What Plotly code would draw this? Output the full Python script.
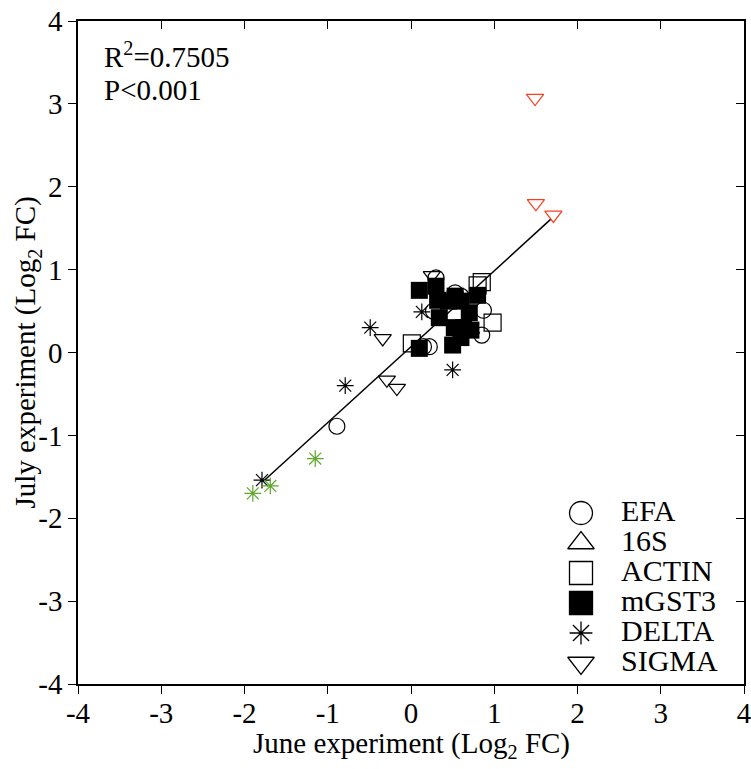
import plotly.graph_objects as go

# ---- data (Log2 fold change) ----
efa_june = [-0.89, 0.15, 0.22, 0.30, 0.27, 0.53, 0.60, 0.87, 0.85]
efa_july = [-0.89, 0.07, 0.07, 0.90, 0.50, 0.72, 0.68, 0.51, 0.21]

s16_june = [0.53, 0.72]
s16_july = [0.66, 0.28]

actin_june = [0.01, 0.80, 0.85, 0.98]
actin_july = [0.11, 0.81, 0.85, 0.36]

mgst3_june = [0.10, 0.30, 0.32, 0.34, 0.53, 0.80, 0.70, 0.72, 0.63, 0.60, 0.50, 0.10, 0.45, 0.60, 0.52]
mgst3_july = [0.75, 0.80, 0.63, 0.42, 0.68, 0.69, 0.48, 0.27, 0.30, 0.18, 0.09, 0.05, 0.62, 0.62, 0.30]

delta_june = [-1.79, -0.79, -0.49, 0.13, 0.50]
delta_july = [-1.54, -0.40, 0.30, 0.49, -0.21]
delta_hl_june = [-1.90, -1.69, -1.15]
delta_hl_july = [-1.70, -1.61, -1.28]

sigma_june = [-0.34, -0.29, -0.17, 0.25]
sigma_july = [0.17, -0.33, -0.43, 0.93]
sigma_hl_june = [1.49, 1.50, 1.71]
sigma_hl_july = [3.07, 1.80, 1.66]

fit_slope = 0.916
fit_intercept = 0.07
fit_june = [-1.78, 1.68]
fit_july = [fit_slope * v + fit_intercept for v in fit_june]

legend_names = ["EFA", "16S", "ACTIN", "mGST3", "DELTA", "SIGMA"]
legend_symbols = ["circle-open", "triangle-up-open", "square-open", "square",
                  "asterisk-open", "triangle-down-open"]

tick_vals = [-4, -3, -2, -1, 0, 1, 2, 3, 4]
tick_text = ["-4", "-3", "-2", "-1", "0", "1", "2", "3", "4"]

FONT = "Liberation Serif"
BLACK = "#000000"
GREEN = "#5fa82a"
RED = "#ff3c1e"

fig = go.Figure()

def pts(x, y, symbol, size, color, width=1.2):
    fig.add_trace(go.Scatter(
        x=x, y=y, mode="markers", showlegend=False, hoverinfo="skip",
        marker=dict(symbol=symbol, size=size, color=color,
                    line=dict(color=color, width=width))))

# regression line
fig.add_trace(go.Scatter(x=fit_june, y=fit_july, mode="lines", showlegend=False,
                         line=dict(color=BLACK, width=1.5), hoverinfo="skip"))

pts(efa_june, efa_july, "circle-open", 16, BLACK)
pts(s16_june, s16_july, "triangle-up-open", 15, BLACK)
pts(actin_june, actin_july, "square-open", 17, BLACK)
pts(mgst3_june, mgst3_july, "square", 17, BLACK, 0)
pts(delta_june, delta_july, "asterisk-open", 14, BLACK)
pts(delta_hl_june, delta_hl_july, "asterisk-open", 14, GREEN)
pts(sigma_june, sigma_july, "triangle-down-open", 15, BLACK)
pts(sigma_hl_june, sigma_hl_july, "triangle-down-open", 15, RED)

# mirror axes (top / right) with inward ticks
fig.add_trace(go.Scatter(x=[None], y=[None], xaxis="x2", yaxis="y2",
                         showlegend=False, hoverinfo="skip"))

# legend keys on a hidden overlay axis (row index -> vertical position)
rows = list(range(len(legend_names)))
for i, (nm, sym) in enumerate(zip(legend_names, legend_symbols)):
    fig.add_trace(go.Scatter(
        x=[0], y=[rows[i]], xaxis="x3", yaxis="y3", mode="markers",
        showlegend=False, hoverinfo="skip",
        marker=dict(symbol=sym, size=23 if "asterisk" not in sym else 19,
                    color=BLACK, line=dict(color=BLACK, width=1.3))))
fig.add_trace(go.Scatter(
    x=[40] * len(rows), y=rows, xaxis="x3", yaxis="y3", mode="text",
    text=legend_names, textposition="middle right", showlegend=False,
    hoverinfo="skip", textfont=dict(family=FONT, size=30, color=BLACK)))

axis_common = dict(range=[-4, 4], tickvals=tick_vals, showgrid=False, zeroline=False,
                   showline=True, linecolor=BLACK, linewidth=1.5, automargin=False,
                   ticklen=8, tickwidth=1.2, tickcolor=BLACK)

fig.update_layout(
    width=751, height=769,
    margin=dict(l=78, r=7, t=21, b=85),
    paper_bgcolor="white", plot_bgcolor="white",
    font=dict(family=FONT, size=29, color=BLACK),
    showlegend=False,
    xaxis=dict(**axis_common, ticks="outside", ticktext=tick_text,
               ticklabelstandoff=-6, ticklabeloverflow="allow",
               tickfont=dict(family=FONT, size=29)),
    yaxis=dict(**axis_common, ticks="outside", ticktext=tick_text,
               ticklabeloverflow="allow",
               tickfont=dict(family=FONT, size=29)),
    xaxis2=dict(**axis_common, ticks="inside", overlaying="x", side="top",
                anchor="y2", showticklabels=False),
    yaxis2=dict(**axis_common, ticks="inside", overlaying="y", side="right",
                anchor="x2", showticklabels=False),
    xaxis3=dict(range=[-503, 163], overlaying="x", visible=False, anchor="y3",
                automargin=False),
    yaxis3=dict(range=[5.7, -16.4], overlaying="y", visible=False, anchor="x3",
                automargin=False),
    annotations=[
        dict(x=-3.71, y=3.59, xref="x", yref="y", xanchor="left", yanchor="middle",
             text="R<sup>2</sup>=0.7505", showarrow=False,
             font=dict(family=FONT, size=29, color=BLACK)),
        dict(x=-3.71, y=3.17, xref="x", yref="y", xanchor="left", yanchor="middle",
             text="P<0.001", showarrow=False,
             font=dict(family=FONT, size=29, color=BLACK)),
        # axis titles
        dict(x=0.5015, y=-0.092, xref="paper", yref="paper", xanchor="center",
             yanchor="middle", showarrow=False,
             text="June experiment (Log<sub>2</sub> FC)",
             font=dict(family=FONT, size=29, color=BLACK)),
        dict(x=-0.0766, y=0.5, xref="paper", yref="paper", xanchor="center",
             yanchor="middle", showarrow=False, textangle=-90,
             text="July experiment (Log<sub>2</sub> FC)",
             font=dict(family=FONT, size=29, color=BLACK)),
    ],
)

fig.write_html(
    "out.html",
    config={"displayModeBar": False},
    post_script="document.body.style.margin='0';document.body.style.padding='0';"
                "document.body.style.overflow='hidden';",
)
